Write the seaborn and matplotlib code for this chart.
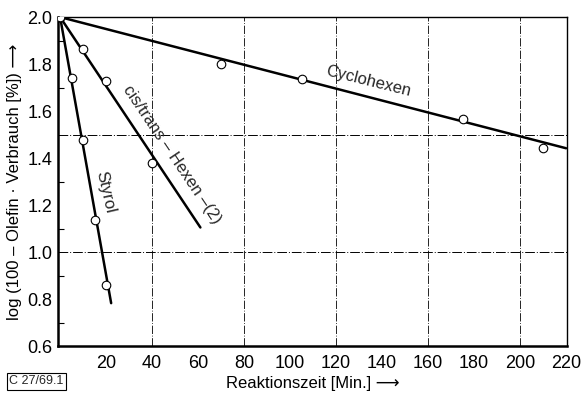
import numpy as np
import pandas as pd
import matplotlib
matplotlib.use("Agg")
import matplotlib.pyplot as plt
import seaborn as sns

# measured points
cyc_t = [0, 70, 105, 175, 210]
cyc_y = [2.0, 1.80, 1.735, 1.565, 1.445]
hex_t = [0, 10, 20, 40]
hex_y = [2.0, 1.865, 1.73, 1.38]
sty_t = [0, 5, 10, 15, 20]
sty_y = [2.0, 1.74, 1.477, 1.137, 0.86]

# fitted lines (start / end)
cyc_line_t = [0, 220]
cyc_line_y = [2.0, 1.442]
hex_line_t = [0, 61]
hex_line_y = [2.0, 1.105]
sty_line_t = [0, 22.2]
sty_line_y = [2.0, 0.783]

sns.set_theme(style="white")
plt.rcParams["font.family"] = ["Liberation Sans", "DejaVu Sans"]
plt.rcParams["font.size"] = 11

pts = pd.concat([
    pd.DataFrame({"t": cyc_t, "y": cyc_y, "s": "Cyclohexen"}),
    pd.DataFrame({"t": hex_t, "y": hex_y, "s": "Hexen"}),
    pd.DataFrame({"t": sty_t, "y": sty_y, "s": "Styrol"}),
])
lines = pd.concat([
    pd.DataFrame({"t": cyc_line_t, "y": cyc_line_y, "s": "Cyclohexen"}),
    pd.DataFrame({"t": hex_line_t, "y": hex_line_y, "s": "Hexen"}),
    pd.DataFrame({"t": sty_line_t, "y": sty_line_y, "s": "Styrol"}),
])

fig = plt.figure(figsize=(5.82, 3.97), dpi=100)
ax = fig.add_axes([0.0997, 0.128, 0.8745, 0.829])

for xv in [40, 80, 120, 160, 200]:
    ax.axvline(xv, color="black", lw=0.6, ls=(0, (10, 2, 1, 2)), zorder=1)
for yv in [1.0, 1.5]:
    ax.axhline(yv, color="black", lw=0.7, ls=(0, (10, 2, 1, 2)), zorder=1)

sns.lineplot(data=lines, x="t", y="y", units="s", estimator=None,
             color="black", lw=1.8, ax=ax, zorder=2, sort=False)
sns.scatterplot(data=pts, x="t", y="y", marker="o", s=38, color="white",
                edgecolor="black", linewidth=0.8, ax=ax, zorder=3)

ax.set_xlim(-0.9, 220.4)
ax.set_ylim(0.6, 2.0)
ax.set_xticks(np.arange(20, 221, 20))
ax.set_yticks(np.round(np.arange(0.6, 2.01, 0.2), 1))
ax.set_yticklabels([f"{v:.1f}" for v in np.arange(0.6, 2.01, 0.2)])
ax.set_xticks([20, 60, 100, 140, 180], minor=True)
ax.set_yticks([0.7, 0.9, 1.1, 1.3, 1.7, 1.9], minor=True)
ax.tick_params(axis="both", which="major", length=0, labelsize=13, pad=6, colors="black")
ax.tick_params(axis="both", which="minor", direction="in", length=4, width=0.8,
               bottom=True, left=True, colors="black")
ax.tick_params(axis="y", which="major", pad=4)

for side in ["left", "bottom"]:
    ax.spines[side].set_linewidth(1.8)
for side in ["top", "right"]:
    ax.spines[side].set_linewidth(1.0)
for sp in ax.spines.values():
    sp.set_color("black")

ax.set_xlabel("Reaktionszeit [Min.] ⟶", fontsize=12, color="black", labelpad=3)
ax.set_ylabel("log (100 – Olefin · Verbrauch [%]) ⟶", fontsize=12, color="black", labelpad=4)

ax.text(134, 1.728, "Cyclohexen", rotation=-14, ha="center", va="center",
        fontsize=12, rotation_mode="anchor")
ax.text(48.5, 1.415, "cis/trans – Hexen –(2)", rotation=-56, ha="center", va="center",
        fontsize=12, rotation_mode="anchor")
ax.text(19.8, 1.255, "Styrol", rotation=-77, ha="center", va="center",
        fontsize=12, rotation_mode="anchor")

fig.text(0.016, 0.04, "C 27/69.1", fontsize=9, ha="left", va="center",
         bbox=dict(boxstyle="square,pad=0.2", fc="white", ec="black", lw=0.8))

fig.savefig("out.png", dpi=100)
